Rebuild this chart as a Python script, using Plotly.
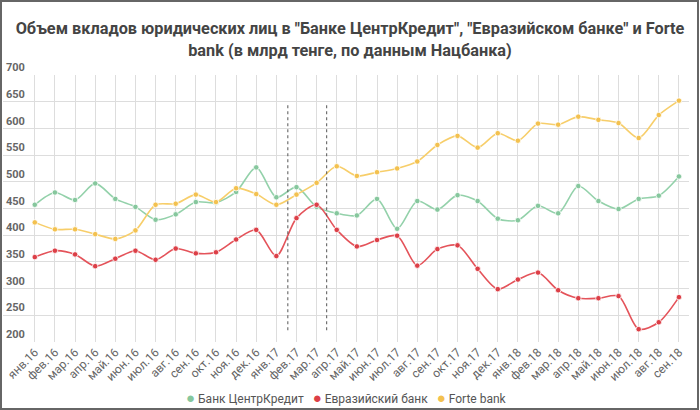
import plotly.graph_objects as go

months = ["янв.16","фев.16","мар.16","апр.16","май.16","июн.16","июл.16","авг.16","сен.16","окт.16","ноя.16","дек.16",
          "янв.17","фев.17","мар.17","апр.17","май.17","июн.17","июл.17","авг.17","сен.17","окт.17","ноя.17","дек.17",
          "янв.18","фев.18","мар.18","апр.18","май.18","июн.18","июл.18","авг.18","сен.18"]

centrkredit = [457, 480, 466, 497, 468, 453, 429, 439, 462, 461, 481, 527,
               471, 490, 453, 441, 437, 468, 412, 464, 448, 475, 464, 431,
               428, 455, 441, 492, 464, 449, 468, 474, 510]

eurasian = [359, 371, 364, 342, 356, 371, 354, 375, 366, 368, 392, 410,
            361, 432, 457, 410, 379, 391, 399, 343, 374, 381, 337, 299,
            317, 330, 297, 282, 282, 286, 224, 237, 284]

forte = [424, 411, 411, 402, 393, 409, 457, 459, 476, 462, 488, 477,
         457, 476, 498, 529, 511, 518, 525, 538, 569, 586, 564, 591,
         577, 609, 607, 622, 616, 610, 582, 625, 652]

series = [
    ("Банк ЦентрКредит", centrkredit, "#93d1aa", "#86c79d"),
    ("Евразийский банк", eurasian, "#e4535a", "#dc3f47"),
    ("Forte bank", forte, "#f7ce6a", "#f3c14f"),
]

y_ticks = list(range(200, 701, 50))
event_positions = [12.57, 14.5]
event_y = [222, 644]

fig = go.Figure()
for name, vals, lc, mc in series:
    fig.add_trace(go.Scatter(
        x=months, y=vals, name=name, mode="lines", showlegend=False,
        line=dict(color=lc, width=1.6, shape="spline", smoothing=0.8),
        hoverinfo="skip",
    ))
    fig.add_trace(go.Scatter(
        x=months, y=vals, name=name, mode="markers", showlegend=False,
        marker=dict(color=mc, size=5.5, line=dict(color="white", width=0.8)),
    ))

for xp in event_positions:
    fig.add_shape(type="line", xref="x", yref="y", x0=xp, x1=xp,
                  y0=event_y[0], y1=event_y[1],
                  line=dict(color="#555555", width=1, dash="dot"))

legend_text = "   ".join(
    f'<span style="color:{mc}; font-size:15px">●</span> {name}' for name, _, _, mc in series
)
fig.add_annotation(text=legend_text, xref="paper", yref="paper", x=0.5, y=-0.21,
                   xanchor="center", yanchor="middle", showarrow=False,
                   font=dict(family="Roboto", size=12, color="#555555"))

fig.update_layout(
    width=700, height=410,
    margin=dict(l=3, r=11, t=75, b=68, autoexpand=False),
    paper_bgcolor="white", plot_bgcolor="white",
    title=dict(
        text='Объем вкладов юридических лиц в "Банке ЦентрКредит", "Евразийском банке" и Forte<br>bank (в млрд тенге, по данным Нацбанка)',
        x=0.5, xanchor="center", y=0.916, yanchor="top",
        font=dict(family="Roboto", size=16.3, color="#444444", weight="bold"),
    ),
    font=dict(family="Roboto", color="#666666"),
    showlegend=False,
    xaxis=dict(
        type="category", categoryorder="array", categoryarray=months,
        range=[-1.58, 32.5], tickangle=-45, automargin=False,
        tickfont=dict(family="Roboto", size=12, color="#666666"),
        showgrid=True, gridcolor="#dddddd", gridwidth=1,
        showline=False, zeroline=False, ticks="",
    ),
    yaxis=dict(
        range=[200, 700], tickvals=y_ticks, automargin=False,
        ticklabelposition="inside top", ticklabeloverflow="allow",
        tickfont=dict(family="Roboto", size=11, color="#666666", weight="bold"),
        showgrid=True, gridcolor="#dddddd", gridwidth=1,
        zeroline=False, showline=False, ticks="",
    ),
)

fig.add_shape(type="rect", xref="paper", yref="paper", x0=-2/686, x1=(686+9)/686,
              y0=-67/267, y1=(267+74)/267, line=dict(color="#666666", width=2),
              fillcolor="rgba(0,0,0,0)", layer="above")

fig.write_html("out.html", config={"displayModeBar": False},
               post_script="document.body.style.margin='0px';")
